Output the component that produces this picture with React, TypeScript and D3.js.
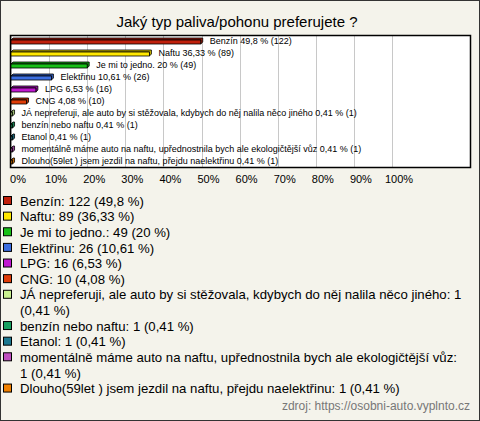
import React, { useMemo } from "react";
import * as d3 from "d3";

const categories = [
  "Benzín",
  "Naftu",
  "Je mi to jedno.",
  "Elektřinu",
  "LPG",
  "CNG",
  "JÁ nepreferuji, ale auto by si stěžovala, kdybych do něj nalila něco jiného",
  "benzín nebo naftu",
  "Etanol",
  "momentálně máme auto na naftu, upřednostnila bych ale ekologičtější vůz",
  "Dlouho(59let ) jsem jezdil na naftu, přejdu naelektřinu",
];
const counts = [122, 89, 49, 26, 16, 10, 1, 1, 1, 1, 1];
const percents = [49.8, 36.33, 20, 10.61, 6.53, 4.08, 0.41, 0.41, 0.41, 0.41, 0.41];
const percentLabels = ["49,8", "36,33", "20", "10,61", "6,53", "4,08", "0,41", "0,41", "0,41", "0,41", "0,41"];
const colors = [
  "#c0200c", "#ffe800", "#18c018", "#3c6ee0", "#c018d0", "#e03c08",
  "#c8f090", "#18a060", "#1c7890", "#c050c0", "#f08000",
];
const ticks = [0, 10, 20, 30, 40, 50, 60, 70, 80, 90, 100];
const title = "Jaký typ paliva/pohonu preferujete ?";
const source = "zdroj: https://osobni-auto.vyplnto.cz";

const W = 480;
const H = 421;
const FONT = "'Liberation Sans', Arial, sans-serif";

function measurer(font: string) {
  const c = document.createElement("canvas").getContext("2d")!;
  c.font = font;
  return (s: string) => c.measureText(s).width;
}

function wrap(text: string, maxW: number, font: string): string[] {
  const m = measurer(font);
  const words = text.split(" ");
  const lines: string[] = [];
  let cur = "";
  for (const w of words) {
    const t = cur ? cur + " " + w : w;
    if (m(t) > maxW && cur) {
      lines.push(cur);
      cur = w;
    } else cur = t;
  }
  if (cur) lines.push(cur);
  return lines;
}

export default function App() {
  const plot = { left: 10, right: 470, top: 35, bottom: 167 };
  const x = d3.scaleLinear().domain([0, 100]).range([11, 392]);
  const y = d3
    .scaleBand<number>()
    .domain(d3.range(categories.length))
    .range([plot.top, plot.bottom]);
  const depth = 2;
  const bh = 4;
  const LFONT = 13.2;

  const legend = useMemo(() => {
    return categories.map((c, i) => {
      const txt = `${c}: ${counts[i]} (${percentLabels[i]} %)`;
      return { lines: wrap(txt, 445, `${LFONT}px ${FONT}`), i };
    });
  }, []);

  let row = 0;
  const lh = 15.63;
  const ly0 = 201;

  return (
    <svg
      width={W}
      height={H}
      style={{ position: "absolute", left: 0, top: 0 }}
      fontFamily={FONT}
    >
      <rect x={0.5} y={0.5} width={W - 1} height={H - 1} fill="#f4f3eb" stroke="#333" />
      <text x={237} y={27} textAnchor="middle" fontSize={15} fill="#000">
        {title}
      </text>
      <rect
        x={plot.left + 0.5}
        y={plot.top + 0.5}
        width={plot.right - plot.left}
        height={plot.bottom - plot.top}
        fill="#fff"
        stroke="none"
      />
      {ticks.map((t) => (
        <line
          key={t}
          x1={Math.round(x(t)) + 0.5}
          x2={Math.round(x(t)) + 0.5}
          y1={plot.top}
          y2={plot.bottom}
          stroke="#c8c8c8"
        />
      ))}
      <rect
        x={plot.left + 0.5}
        y={plot.top + 0.5}
        width={plot.right - plot.left}
        height={plot.bottom - plot.top}
        fill="none"
        stroke="#000"
        strokeWidth={1.5}
      />
      {percents.map((p, i) => {
        const cy = (y(i) as number) + y.bandwidth() / 2;
        const x0 = x(0);
        const x1 = x(p);
        const top = cy - bh / 2 + 1;
        const back = d3.color(colors[i])!.darker(0.6).toString();
        return (
          <g key={i}>
            <path
              d={`M${x0},${top} L${x0 + depth},${top - depth} L${x1 + depth},${top - depth} L${x1 + depth},${top - depth + bh} L${x1},${top + bh} L${x1},${top} Z`}
              fill={back}
              stroke="#000"
              strokeWidth={0.8}
            />
            <rect
              x={x0}
              y={top}
              width={Math.max(x1 - x0, 0.5)}
              height={bh}
              fill={colors[i]}
              stroke="#000"
              strokeWidth={0.8}
            />
            <text
              x={x1 + depth + 7}
              y={cy}
              dy="0.35em"
              fontSize={9}
              fill="#000"
            >
              {`${categories[i]} ${percentLabels[i]} % (${counts[i]})`}
            </text>
          </g>
        );
      })}
      {ticks.map((t) => (
        <text
          key={t}
          x={x(t) + 7}
          y={179}
          dy="0.35em"
          textAnchor="middle"
          fontSize={11}
          fill="#000"
        >
          {`${t}%`}
        </text>
      ))}
      {legend.map(({ lines, i }) => {
        const startRow = row;
        row += lines.length;
        const cy = ly0 + startRow * lh;
        return (
          <g key={i}>
            <rect
              x={3.5}
              y={cy - 4.5}
              width={8}
              height={8}
              fill={colors[i]}
              stroke="#000"
            />
            {lines.map((l, k) => (
              <text
                key={k}
                x={20}
                y={cy + k * lh}
                dy="0.35em"
                fontSize={LFONT}
                fill="#000"
              >
                {l}
              </text>
            ))}
          </g>
        );
      })}
      <text x={470} y={410} textAnchor="end" fontSize={12} fill="#777">
        {source}
      </text>
    </svg>
  );
}
